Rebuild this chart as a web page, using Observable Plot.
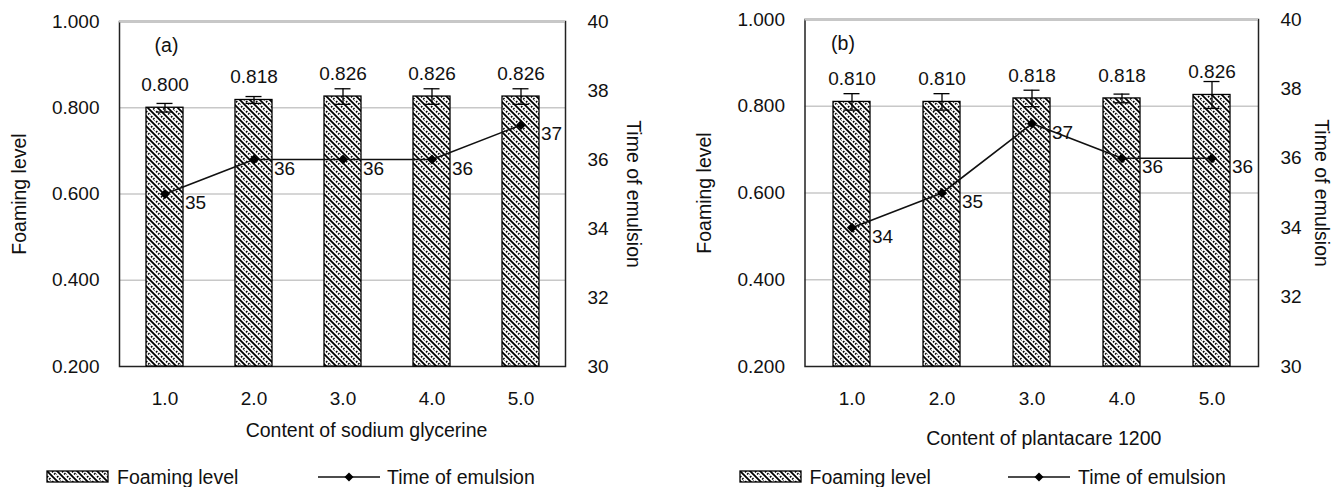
<!DOCTYPE html>
<html>
<head>
<meta charset="utf-8">
<script src="https://cdn.jsdelivr.net/npm/d3@7"></script>
<script src="https://cdn.jsdelivr.net/npm/@observablehq/plot@0.6"></script>
<style>
  body { margin: 0; background: #fff; font-family: "Liberation Sans", Arial, sans-serif; }
  #wrap { position: relative; width: 1333px; height: 487px; overflow: hidden; background: #fff; }
  .panel { position: absolute; top: 0; }
  .leg { position: absolute; font-size: 19.5px; line-height: 20px; color: #111; white-space: nowrap; }
  .sw { position: absolute; }
</style>
</head>
<body>
<svg width="0" height="0" style="position:absolute">
  <defs>
    <pattern id="hatch" patternUnits="userSpaceOnUse" width="10" height="10">
      <rect width="10" height="10" fill="#fff"/>
      <path d="M-1,-1L11,11M-1,9L1,11M9,-1L11,1" stroke="#000" stroke-width="1.8"/>
      <path d="M-1,4L6,11M4,-1L11,6" stroke="#000" stroke-width="2" stroke-dasharray="1.5,1.5"/>
    </pattern>
  </defs>
</svg>
<div id="wrap"></div>
<script>
// ---- data ----
const categories = ["1.0", "2.0", "3.0", "4.0", "5.0"];
const foamA = [0.800, 0.818, 0.826, 0.826, 0.826];
const errA  = [0.010, 0.008, 0.018, 0.018, 0.018];
const timeA = [35, 36, 36, 36, 37];
const foamB = [0.810, 0.810, 0.818, 0.818, 0.826];
const errB  = [0.019, 0.019, 0.019, 0.010, 0.031];
const timeB = [34, 35, 37, 36, 36];
const foamTicks = [0.2, 0.4, 0.6, 0.8, 1.0];
const timeTicks = [30, 32, 34, 36, 38, 40];
const xTitleA = "Content of sodium glycerine";
const xTitleB = "Content of plantacare 1200";
const yTitleL = "Foaming level";
const yTitleR = "Time of emulsion";

// map time (30..40) onto the foaming-level scale (0.2..1.0)
const toY = t => 0.2 + (t - 30) * 0.08;
const fromY = y => Math.round(30 + (y - 0.2) / 0.08);

function panel(o) {
  const data = categories.map((c, i) => ({c, f: o.foam[i], e: o.err[i], t: o.time[i]}));
  return Plot.plot({
    width: o.width, height: 455,
    marginLeft: o.marginLeft, marginRight: o.marginRight, marginTop: o.marginTop, marginBottom: 89,
    style: {fontSize: "19px", fontFamily: "'Liberation Sans', Arial, sans-serif", color: "#111", overflow: "visible", background: "transparent"},
    x: {domain: categories, paddingInner: 0.586, paddingOuter: 0.293, label: null},
    y: {domain: [0.2, 1.0], label: null},
    marks: [
      Plot.ruleY(foamTicks.slice(1, 4), {stroke: "#c8c8c8", strokeWidth: 1.6}),
      Plot.frame({stroke: "#222", strokeWidth: 1.5}),
      Plot.ruleY([1.0], {stroke: "#c8c8c8", strokeWidth: 2.2}),
      Plot.barY(data, {x: "c", y1: 0.2, y2: "f", fill: "url(#hatch)", stroke: "#000", strokeWidth: 1.3}),
      Plot.ruleX(data, {x: "c", y1: d => d.f - d.e, y2: d => d.f + d.e, stroke: "#000", strokeWidth: 1.3}),
      Plot.tickY(data, {x: "c", y: d => d.f + d.e, insetLeft: 10.5, insetRight: 10.5, stroke: "#000", strokeWidth: 1.3}),
      Plot.tickY(data, {x: "c", y: d => d.f - d.e, insetLeft: 10.5, insetRight: 10.5, stroke: "#000", strokeWidth: 1.3}),
      Plot.line(data, {x: "c", y: d => toY(d.t), stroke: "#111", strokeWidth: 1.6}),
      Plot.dot(data, {x: "c", y: d => toY(d.t), symbol: "diamond2", r: 4.5, fill: "#000", stroke: "none"}),
      Plot.text(data, {x: "c", y: "f", text: d => d3.format(".3f")(d.f), dy: -23, fill: "#111"}),
      Plot.text(data, {x: "c", y: d => toY(d.t), text: d => String(d.t), textAnchor: "start", dx: 20, dy: 9, fill: "#111"}),
      Plot.axisY({ticks: foamTicks, tickFormat: d3.format(".3f"), tickSize: 0, tickPadding: 20, label: null}),
      Plot.axisY({anchor: "right", ticks: timeTicks.map(toY), tickFormat: fromY, tickSize: 0, tickPadding: 22, label: null}),
      Plot.axisX({tickSize: 0, tickPadding: 25, label: null}),
      Plot.text([o.tag], {frameAnchor: "top-left", textAnchor: "middle", lineAnchor: "middle", dx: o.tagDx, dy: 24, text: d => d, fontSize: 19.5}),
      Plot.text([o.xTitle], {frameAnchor: "bottom", textAnchor: "middle", lineAnchor: "middle", dx: o.titleDx, dy: o.titleDy, text: d => d, fontSize: 19.5}),
      Plot.text([yTitleL], {frameAnchor: "left", textAnchor: "middle", lineAnchor: "middle", dx: -100, rotate: -90, text: d => d, fontSize: 19.5}),
      Plot.text([yTitleR], {frameAnchor: "right", textAnchor: "middle", lineAnchor: "middle", dx: o.rTitleDx, rotate: 90, text: d => d, fontSize: 19.5})
    ]
  });
}

const wrap = document.getElementById("wrap");
const pa = panel({foam: foamA, err: errA, time: timeA, width: 667, marginLeft: 119, marginRight: 102, marginTop: 21,
  tag: "(a)", tagDx: 47, xTitle: xTitleA, titleDx: 24, titleDy: 64, rTitleDx: 68});
pa.classList.add("panel"); pa.style.left = "0px";
wrap.appendChild(pa);
const pb = panel({foam: foamB, err: errB, time: timeB, width: 666, marginLeft: 137.5, marginRight: 75, marginTop: 19,
  tag: "(b)", tagDx: 38, xTitle: xTitleB, titleDx: 12, titleDy: 72, rTitleDx: 63});
pb.classList.add("panel"); pb.style.left = "667px";
wrap.appendChild(pb);

// ---- legends ----
function legend(xBar, xBarText, xLine, xLineText) {
  const ns = "http://www.w3.org/2000/svg";
  const s1 = document.createElementNS(ns, "svg");
  s1.setAttribute("class", "sw"); s1.setAttribute("width", 64); s1.setAttribute("height", 14);
  s1.style.left = xBar + "px"; s1.style.top = "470px";
  s1.innerHTML = '<rect x="1" y="1" width="61" height="11" fill="url(#hatch)" stroke="#000" stroke-width="1.3"/>';
  wrap.appendChild(s1);
  const t1 = document.createElement("div");
  t1.className = "leg"; t1.style.left = xBarText + "px"; t1.style.top = "467px"; t1.textContent = yTitleL;
  wrap.appendChild(t1);
  const s2 = document.createElementNS(ns, "svg");
  s2.setAttribute("class", "sw"); s2.setAttribute("width", 62); s2.setAttribute("height", 14);
  s2.style.left = xLine + "px"; s2.style.top = "470px";
  s2.innerHTML = '<line x1="0" x2="62" y1="7" y2="7" stroke="#111" stroke-width="1.6"/><path d="M31,2.5L35.5,7L31,11.5L26.5,7Z" fill="#000"/>';
  wrap.appendChild(s2);
  const t2 = document.createElement("div");
  t2.className = "leg"; t2.style.left = xLineText + "px"; t2.style.top = "467px"; t2.textContent = yTitleR;
  wrap.appendChild(t2);
}
legend(46, 117, 318, 387);
legend(739, 809.5, 1008, 1078);
</script>
</body>
</html>
